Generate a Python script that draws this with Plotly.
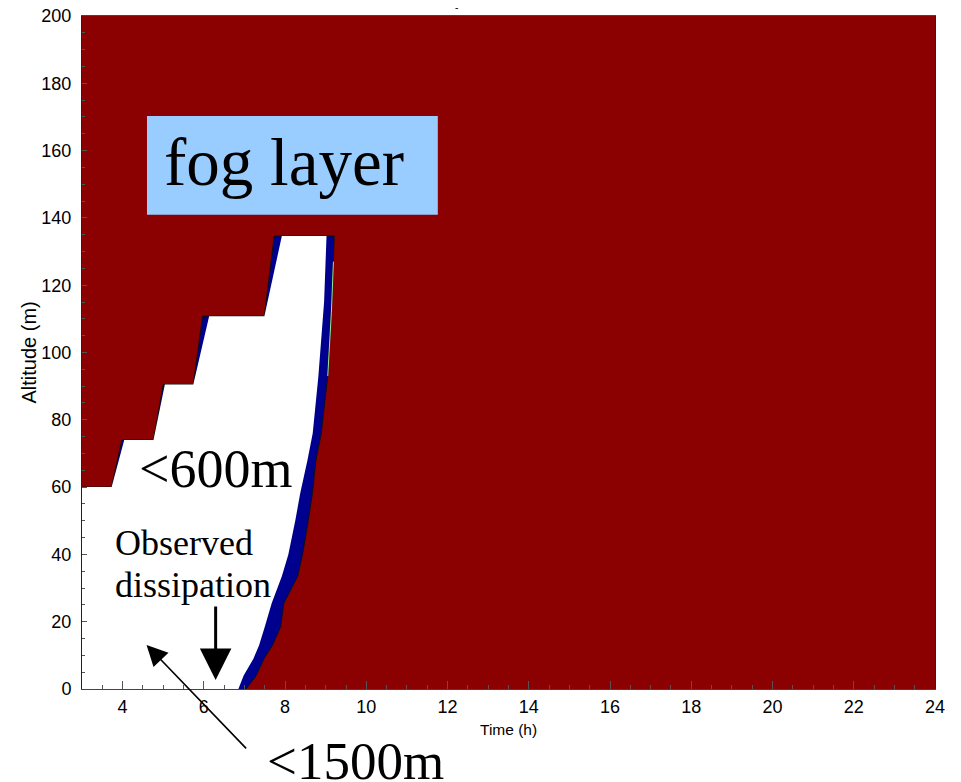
import plotly.graph_objects as go

# ---- data ----
# staircase top boundary of the low-visibility region (time h, altitude m)
stair_t_outer = [3.0, 3.0, 3.73, 3.98, 4.76, 5.00, 5.74, 5.97, 7.49, 7.73]
stair_t_inner = [3.0, 3.0, 3.73, 4.04, 4.76, 5.04, 5.74, 6.13, 7.49, 7.92]
stair_alt = [0, 60, 60, 74, 74, 90.5, 90.5, 110.8, 110.8, 134.6]

# right-hand (dissipation) edge, top to bottom
edge_alt = [134.6, 115, 93, 76, 68, 58, 50, 40, 33.5, 25.5, 18.5, 13, 9, 4, 0]
white_edge_t = [9.02, 8.96, 8.82, 8.68, 8.55, 8.37, 8.25, 8.08, 7.92, 7.67, 7.50, 7.36, 7.22, 6.98, 6.85]
blue_edge_t = [9.21, 9.15, 9.05, 8.89, 8.76, 8.67, 8.57, 8.43, 8.31, 7.97, 7.89, 7.69, 7.48, 7.29, 7.04]

# thin light-green contour fragment
green_t = [9.19, 9.14, 9.05]
green_alt = [127, 112, 93]

x_ticks = [4, 6, 8, 10, 12, 14, 16, 18, 20, 22, 24]
y_ticks = [0, 20, 40, 60, 80, 100, 120, 140, 160, 180, 200]

RED = "#8B0000"
BLUE = "#00008F"
SERIF = "Liberation Serif, Times New Roman, serif"
SANS = "Liberation Sans, Arial, sans-serif"

fig = go.Figure()

# outer (blue band) region
fig.add_trace(go.Scatter(
    x=stair_t_outer + blue_edge_t,
    y=stair_alt + edge_alt,
    fill="toself", fillcolor=BLUE, mode="lines",
    line=dict(color="#101010", width=1), hoverinfo="skip", showlegend=False))

# inner (white) region
fig.add_trace(go.Scatter(
    x=stair_t_inner + white_edge_t,
    y=stair_alt + edge_alt,
    fill="toself", fillcolor="white", mode="lines",
    line=dict(color="white", width=0), hoverinfo="skip", showlegend=False))

fig.add_trace(go.Scatter(
    x=green_t, y=green_alt, mode="lines",
    line=dict(color="#9EE89E", width=1), hoverinfo="skip", showlegend=False))

# "fog layer" box
fig.add_shape(type="rect", xref="x", yref="y", x0=4.60, x1=11.76, y0=140.9, y1=170.3,
              fillcolor="#99CCFF", line=dict(width=0), layer="above")

ann = []
ann.append(dict(x=7.97, y=156.5, xref="x", yref="y", text="fog layer", showarrow=False,
                font=dict(family=SERIF, size=67, color="black"), xanchor="center", yanchor="middle"))
ann.append(dict(x=6.28, y=65.3, xref="x", yref="y", text="&lt;600m", showarrow=False,
                font=dict(family=SERIF, size=54, color="black"), xanchor="center", yanchor="middle"))
ann.append(dict(x=3.76, y=43.5, xref="x", yref="y", text="Observed", showarrow=False,
                font=dict(family=SERIF, size=36, color="black"), xanchor="left", yanchor="middle"))
ann.append(dict(x=3.76, y=31, xref="x", yref="y", text="dissipation", showarrow=False,
                font=dict(family=SERIF, size=36, color="black"), xanchor="left", yanchor="middle"))
ann.append(dict(x=0.5, y=0, xref="paper", yref="paper", text="&lt;1500m", showarrow=False,
                font=dict(family=SERIF, size=53, color="black"), xanchor="left", yanchor="top",
                xshift=-244, yshift=-41))
# vertical arrow
ann.append(dict(x=6.29, y=2.7, xref="x", yref="y", ax=6.29, ay=25, axref="x", ayref="y",
                text="", showarrow=True, arrowhead=2, arrowsize=2.1, arrowwidth=3,
                arrowcolor="black"))
# diagonal arrow
ann.append(dict(x=4.59, y=13.1, xref="x", yref="y", ax=101, ay=105,
                text="", showarrow=True, arrowhead=2, arrowsize=2.6, arrowwidth=1.6,
                arrowcolor="black"))
# axis titles
ann.append(dict(x=0.5, y=0, xref="paper", yref="paper", text="Time (h)", showarrow=False,
                font=dict(family=SANS, size=15.5, color="black"), xanchor="center", yanchor="top",
                yshift=-30))
ann.append(dict(x=0, y=0.5, xref="paper", yref="paper", text="Altitude (m)", showarrow=False,
                font=dict(family=SANS, size=20, color="black"), textangle=-90,
                xanchor="center", yanchor="middle", xshift=-54))
# small dash above the frame
ann.append(dict(x=12.23, y=1.0, xref="x", yref="paper", text="-", showarrow=False,
                font=dict(family=SANS, size=10, color="black"), yanchor="bottom", yshift=1))

fig.update_layout(
    width=961, height=782,
    margin=dict(l=82, r=26, t=16, b=93, autoexpand=False),
    paper_bgcolor="white", plot_bgcolor=RED,
    showlegend=False, annotations=ann,
    xaxis=dict(range=[3, 24], tickvals=x_ticks, showgrid=False, zeroline=False,
               ticks="inside", ticklen=8, tickcolor="#555", tickwidth=1,
               minor=dict(dtick=0.5, ticks="inside", ticklen=4, tickcolor="#555"),
               showline=True, linecolor="#444", linewidth=1, mirror=True,
               ticklabelstandoff=1, automargin=False,
               tickfont=dict(family=SANS, size=18, color="black")),
    yaxis=dict(range=[0, 200], tickvals=y_ticks, showgrid=False, zeroline=False,
               ticks="inside", ticklen=5, tickcolor="#555", tickwidth=1,
               minor=dict(dtick=5, ticks="inside", ticklen=3, tickcolor="#555"),
               showline=True, linecolor="#222", linewidth=1, mirror=True,
               ticklabelstandoff=6, automargin=False,
               tickfont=dict(family=SANS, size=18, color="black")),
)

fig.write_html("out.html")
